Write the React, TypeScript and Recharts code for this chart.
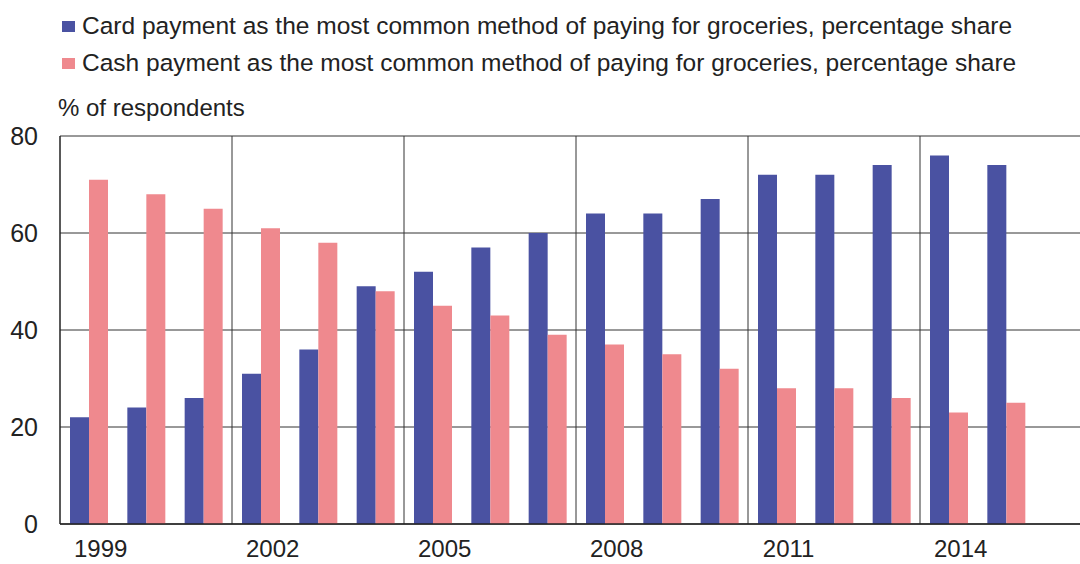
import { BarChart, Bar, XAxis, YAxis, CartesianGrid } from 'recharts';

const years = [
    '1999', '2000', '2001', '2002', '2003', '2004', '2005', '2006', '2007',
    '2008', '2009', '2010', '2011', '2012', '2013', '2014', '2015', '2016',
];
// 2016 has no data; it only keeps the empty slot at the right edge
const cardShare = [22, 24, 26, 31, 36, 49, 52, 57, 60, 64, 64, 67, 72, 72, 74, 76, 74, null];
const cashShare = [71, 68, 65, 61, 58, 48, 45, 43, 39, 37, 35, 32, 28, 28, 26, 23, 25, null];
const yTicks = [0, 20, 40, 60, 80];

const cardLabel = 'Card payment as the most common method of paying for groceries, percentage share';
const cashLabel = 'Cash payment as the most common method of paying for groceries, percentage share';

const CARD_COLOR = '#4a52a2';
const CASH_COLOR = '#ef898e';
const TEXT_COLOR = '#222';
const FONT = '"Liberation Sans", Arial, sans-serif';

const data = years.map((year, i) => ({
    year,
    card: cardShare[i],
    cash: cashShare[i],
}));

function YearTick({ x, y, payload }: any) {
    return (
        <text x={x + 12} y={y} dy="0.71em" textAnchor="middle" fill={TEXT_COLOR} fontSize={24} fontFamily={FONT}>
            {payload.value}
        </text>
    );
}

export default function App() {
    // vertical separators every 3 years, at category boundaries
    const verticalLines = ({ offset }: any) => {
        const step = offset.width / years.length;
        const out: number[] = [];
        for (let i = 3; i < years.length; i += 3) out.push(offset.left + i * step);
        return out;
    };

    const legendItem = (color: string, label: string, top: number) => (
        <div style={{ position: 'absolute', left: 62, top, display: 'flex', alignItems: 'center', whiteSpace: 'nowrap' }}>
            <span style={{ width: 13, height: 11, background: color, marginRight: 7, display: 'inline-block' }} />
            <span style={{ fontSize: 24.5, color: TEXT_COLOR, fontFamily: FONT, lineHeight: '26px' }}>{label}</span>
        </div>
    );

    return (
        <div style={{ position: 'fixed', left: 0, top: 0, width: 1080, height: 564, overflow: 'hidden', background: '#fff' }}>
            {legendItem(CARD_COLOR, cardLabel, 13)}
            {legendItem(CASH_COLOR, cashLabel, 50)}
            <div style={{ position: 'absolute', left: 58, top: 95, fontSize: 24, color: TEXT_COLOR, fontFamily: FONT, lineHeight: '26px' }}>
                % of respondents
            </div>
            <div style={{ position: 'absolute', left: 0, top: 0 }}>
                <BarChart
                    width={1100}
                    height={564}
                    data={data}
                    margin={{ top: 136, right: 8, left: 0, bottom: 0 }}
                    barCategoryGap={10}
                    barGap={0}
                >
                    <CartesianGrid
                        stroke="#333"
                        strokeWidth={1}
                        vertical
                        verticalCoordinatesGenerator={verticalLines}
                    />
                    <XAxis
                        dataKey="year"
                        interval={2}
                        height={40}
                        tickLine={false}
                        tickSize={0}
                        tickMargin={16}
                        axisLine={{ stroke: '#222', strokeWidth: 1.5 }}
                        tick={<YearTick />}
                    />
                    <YAxis
                        width={60}
                        domain={[0, 80]}
                        ticks={yTicks}
                        tickLine={false}
                        tickSize={0}
                        tickMargin={22}
                        axisLine={{ stroke: '#222', strokeWidth: 1.5 }}
                        tick={{ fill: TEXT_COLOR, fontSize: 25, fontFamily: FONT }}
                    />
                    <Bar dataKey="card" fill={CARD_COLOR} isAnimationActive={false} />
                    <Bar dataKey="cash" fill={CASH_COLOR} isAnimationActive={false} />
                </BarChart>
            </div>
        </div>
    );
}
